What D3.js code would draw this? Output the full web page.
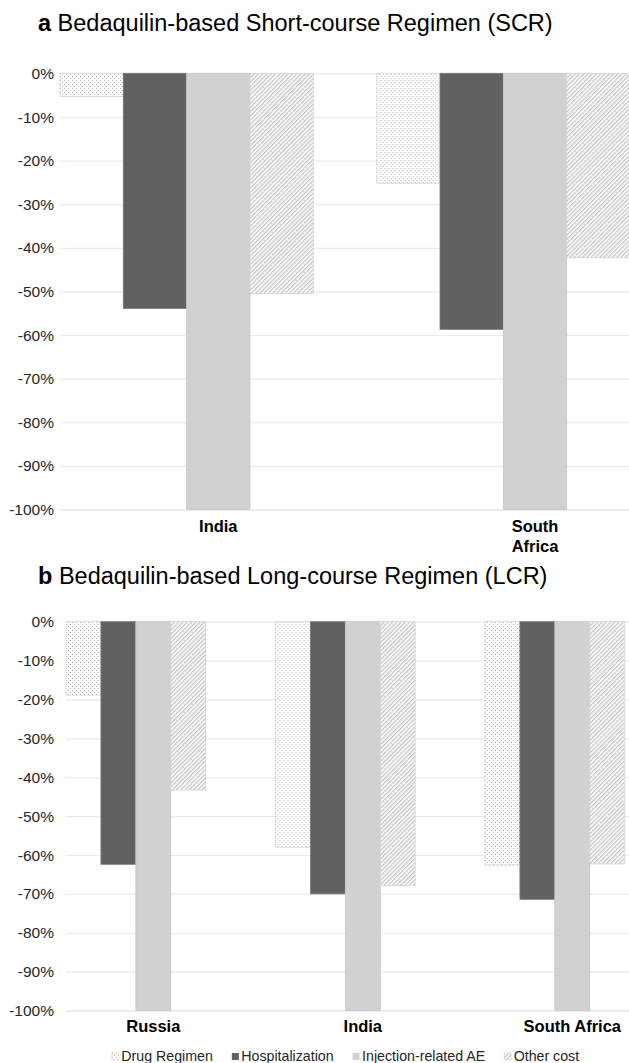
<!DOCTYPE html>
<html>
<head>
<meta charset="utf-8">
<script src="https://cdn.jsdelivr.net/npm/d3@7"></script>
<style>
    body { margin: 0; background: #ffffff; }
    svg { display: block; font-family: "Liberation Sans", Arial, sans-serif; }
</style>
</head>
<body>
<svg class="chart-cost" width="629" height="1063"></svg>
<script>

var seriesNames = ["Drug Regimen", "Hospitalization", "Injection-related AE", "Other cost"];
var yTicks = [0, -10, -20, -30, -40, -50, -60, -70, -80, -90, -100];

// panel a - short-course regimen
var scrCountries = ["India", "South Africa"];
var scrDrug = [-5.3, -25.2];
var scrHosp = [-53.9, -58.7];
var scrInjection = [-100, -100];
var scrOther = [-50.5, -42.3];

// panel b - long-course regimen
var lcrCountries = ["Russia", "India", "South Africa"];
var lcrDrug = [-18.9, -58.0, -62.6];
var lcrHosp = [-62.4, -70.0, -71.4];
var lcrInjection = [-100, -100, -100];
var lcrOther = [-43.3, -67.9, -62.3];

var svg = d3.select(".chart-cost");
var defs = svg.append("defs");

var dots = defs.append("pattern").attr("id", "dots").attr("patternUnits", "userSpaceOnUse").attr("width", 4).attr("height", 4);
dots.append("rect").attr("width", 4).attr("height", 4).attr("fill", "#ffffff");
dots.append("rect").attr("x", 0).attr("y", 0).attr("width", 1).attr("height", 1).attr("fill", "#b3b3b3");
dots.append("rect").attr("x", 2).attr("y", 2).attr("width", 1).attr("height", 1).attr("fill", "#b3b3b3");

var hatch = defs.append("pattern").attr("id", "hatch").attr("patternUnits", "userSpaceOnUse").attr("width", 3).attr("height", 3).attr("patternTransform", "rotate(45)");
hatch.append("rect").attr("width", 3).attr("height", 3).attr("fill", "#ffffff");
hatch.append("line").attr("x1", 0.7).attr("y1", 0).attr("x2", 0.7).attr("y2", 3).attr("stroke", "#c4c4c4").attr("stroke-width", 1.3);

var fills = ["url(#dots)", "#616161", "#d0d1d0", "url(#hatch)"];
var strokes = ["#d6d6d6", "#7a7a7a", "#c6c7c6", "#d6d6d6"];

function drawPanel(cfg) {

    var rows = cfg.countries.map(function(c, i) {

        return {country: c, values: cfg.series.map(function(s) { return s[i]; })};

    });

    var x0 = d3.scaleBand().domain(cfg.countries).range(cfg.bandRange).paddingInner(cfg.padding).paddingOuter(cfg.padding / 2);
    var x1 = d3.scaleBand().domain(d3.range(seriesNames.length)).range([0, x0.bandwidth()]);
    var y = d3.scaleLinear().domain([-100, 0]).range([cfg.bottom, cfg.top]);

    var g = svg.append("g");

    g.append("text").attr("x", 38).attr("y", cfg.titleY).style("font-size", "23.5px").attr("fill", "#000")
        .call(function(t) {
            t.append("tspan").style("font-weight", "bold").text(cfg.letter + " ");
            t.append("tspan").text(cfg.title);
        });

    g.selectAll(".grid").data(yTicks).enter().append("line")
        .attr("x1", cfg.gridLeft).attr("x2", 629)
        .attr("y1", function(d) { return y(d) + 0.5; }).attr("y2", function(d) { return y(d) + 0.5; })
        .attr("stroke", function(d) { return d === -100 ? "#d9d9d9" : "#e9e9e9"; }).attr("stroke-width", 1.2);

    g.selectAll(".tick-label").data(yTicks).enter().append("text")
        .attr("x", 54).attr("y", function(d) { return y(d); }).attr("dy", "0.36em")
        .attr("text-anchor", "end").style("font-size", "15.5px").attr("fill", "#262626")
        .text(function(d) { return d + "%"; });

    var group = g.selectAll(".group").data(rows).enter().append("g")
        .attr("transform", function(d) { return "translate(" + x0(d.country) + ",0)"; });

    group.selectAll("rect").data(function(d) { return d.values; }).enter().append("rect")
        .attr("x", function(d, i) { return x1(i); })
        .attr("y", y(0))
        .attr("width", x1.bandwidth())
        .attr("height", function(d) { return y(d) - y(0); })
        .attr("fill", function(d, i) { return fills[i]; })
        .attr("stroke", function(d, i) { return strokes[i]; })
        .attr("stroke-width", 0.8);

    g.selectAll(".cat-label").data(cfg.countries).enter().append("text")
        .attr("text-anchor", "middle").attr("y", cfg.labelY)
        .style("font-size", "16.5px").style("font-weight", "bold").attr("fill", "#000")
        .each(function(d) {
            var cx = x0(d) + x0.bandwidth() / 2 + x1.bandwidth() / 2;
            var words = cfg.wrapLabels ? d.split(" ") : [d];
            var t = d3.select(this);
            words.forEach(function(w, k) {
                t.append("tspan").attr("x", cx).attr("dy", k === 0 ? 0 : 20).text(w);
            });
        });

}

drawPanel({
    letter: "a", title: "Bedaquilin-based Short-course Regimen (SCR)", titleY: 31,
    countries: scrCountries, series: [scrDrug, scrHosp, scrInjection, scrOther],
    bandRange: [28.3, 661.7], padding: 0.2, gridLeft: 60,
    top: 73.3, bottom: 509.5, labelY: 532, wrapLabels: true
});

drawPanel({
    letter: "b", title: "Bedaquilin-based Long-course Regimen (LCR)", titleY: 584,
    countries: lcrCountries, series: [lcrDrug, lcrHosp, lcrInjection, lcrOther],
    bandRange: [31.1, 659.6], padding: 1 / 3, gridLeft: 66,
    top: 621.7, bottom: 1010.5, labelY: 1032, wrapLabels: false
});

// legend
var legend = svg.append("g").attr("class", "legend");
var item = legend.selectAll("g").data(seriesNames).enter().append("g");

item.append("rect").attr("x", 0).attr("y", -8).attr("width", 7).attr("height", 7)
    .attr("fill", function(d, i) { return fills[i]; })
    .attr("stroke", function(d, i) { return i === 0 || i === 3 ? "#cfcfcf" : "none"; }).attr("stroke-width", 0.6);

item.append("text").attr("x", 9.5).attr("y", 0).style("font-size", "14.2px").attr("fill", "#262626").text(function(d) { return d; });

var offset = 0;
var itemGap = 19;
item.each(function() {
    var w = this.getBBox().width;
    d3.select(this).attr("transform", "translate(" + offset + ",0)");
    offset += w + itemGap;
});
var legendWidth = offset - itemGap;
legend.attr("transform", "translate(" + (345.5 - legendWidth / 2) + ",1061)");

</script>
</body>
</html>
